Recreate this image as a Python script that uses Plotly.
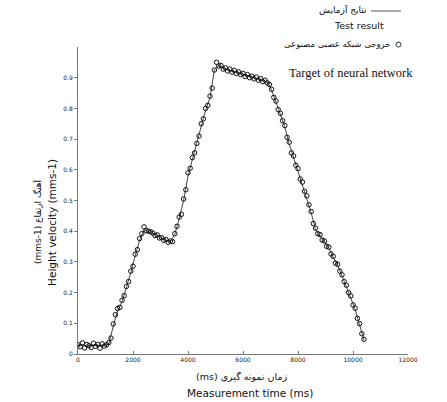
import plotly.graph_objects as go

# ---- data ----
# neural-network output (circles), sampled every 80 ms from 0 ms
nn_start_ms = 0
nn_step_ms = 80
nn_values = [
    0.030, 0.024, 0.036, 0.020, 0.031, 0.027, 0.021, 0.035, 0.025, 0.031,
    0.019, 0.033, 0.026, 0.030, 0.037, 0.052, 0.098, 0.128, 0.148, 0.152,
    0.175, 0.190, 0.220, 0.236, 0.270, 0.286, 0.325, 0.340, 0.376, 0.392,
    0.414, 0.402, 0.400, 0.398, 0.394, 0.386, 0.388, 0.378, 0.379, 0.370,
    0.373, 0.364, 0.368, 0.366, 0.392, 0.416, 0.446, 0.455, 0.505, 0.535,
    0.590, 0.605, 0.640, 0.655, 0.686, 0.710, 0.750, 0.766, 0.800, 0.810,
    0.840, 0.866, 0.925, 0.950, 0.938, 0.940, 0.928, 0.932, 0.922, 0.928,
    0.918, 0.924, 0.914, 0.919, 0.910, 0.914, 0.904, 0.910, 0.900, 0.905,
    0.896, 0.902, 0.892, 0.897, 0.887, 0.892, 0.883, 0.878, 0.862, 0.836,
    0.824, 0.796, 0.784, 0.760, 0.744, 0.706, 0.690, 0.655, 0.645, 0.615,
    0.604, 0.570, 0.560, 0.530, 0.515, 0.486, 0.464, 0.425, 0.410, 0.392,
    0.389, 0.371, 0.368, 0.351, 0.348, 0.326, 0.318, 0.296, 0.292, 0.270,
    0.258, 0.236, 0.224, 0.200, 0.189, 0.160, 0.149, 0.116, 0.099, 0.066,
    0.048,
]

# test result (line), sampled every 160 ms from 0 ms
test_start_ms = 0
test_step_ms = 160
test_values = [
    0.028, 0.030, 0.026, 0.030, 0.027, 0.029, 0.028, 0.032, 0.090, 0.140,
    0.170, 0.215, 0.265, 0.320, 0.370, 0.405, 0.400, 0.393, 0.386, 0.377,
    0.370, 0.367, 0.390, 0.440, 0.500, 0.580, 0.635, 0.685, 0.745, 0.795,
    0.835, 0.925, 0.940, 0.930, 0.926, 0.922, 0.918, 0.913, 0.908, 0.904,
    0.900, 0.895, 0.890, 0.886, 0.860, 0.820, 0.780, 0.740, 0.685, 0.640,
    0.600, 0.555, 0.510, 0.460, 0.405, 0.385, 0.365, 0.345, 0.315, 0.290,
    0.255, 0.220, 0.185, 0.145, 0.095, 0.045,
]

x_tick_values = [0, 2000, 4000, 6000, 8000, 10000, 12000]
x_tick_labels = ["0", "2000", "4000", "6000", "8000", "10000", "12000"]
y_tick_values = [0, 0.1, 0.2, 0.3, 0.4, 0.5, 0.6, 0.7, 0.8, 0.9]
y_tick_labels = ["0", "0.1", "0.2", "0.3", "0.4", "0.5", "0.6", "0.7", "0.8", "0.9"]

nn_times = [nn_start_ms + i * nn_step_ms for i in range(len(nn_values))]
test_times = [test_start_ms + i * test_step_ms for i in range(len(test_values))]

fig = go.Figure()
fig.add_trace(go.Scatter(
    x=test_times, y=test_values, mode="lines",
    line=dict(color="#444", width=1), showlegend=False,
))
fig.add_trace(go.Scatter(
    x=nn_times, y=nn_values, mode="markers",
    marker=dict(symbol="circle-open", size=4.5, color="#111", line=dict(width=1)),
    showlegend=False,
))

axis_color = "#777"
fig.update_xaxes(
    range=[0, 12000], tickvals=x_tick_values, ticktext=x_tick_labels,
    showgrid=False, zeroline=False, showline=True, linecolor=axis_color, linewidth=1,
    ticks="inside", ticklen=3, tickcolor=axis_color,
    tickfont=dict(family="DejaVu Sans", size=6, color="#222"),
)
fig.update_yaxes(
    range=[0, 1.0], tickvals=y_tick_values, ticktext=y_tick_labels,
    showgrid=False, zeroline=False, showline=True, linecolor=axis_color, linewidth=1,
    ticks="outside", ticklen=3, tickcolor=axis_color,
    tickfont=dict(family="DejaVu Sans", size=6, color="#222"),
)

sans = "DejaVu Sans"
ann = [
    # axis titles
    dict(x=0.494, y=-0.05, xref="paper", yref="paper", yanchor="top", showarrow=False,
         text="(ms) زمان نمونه گیری", font=dict(family=sans, size=9.5, color="#111")),
    dict(x=0.52, y=-0.10, xref="paper", yref="paper", yanchor="top", showarrow=False,
         text="Measurement time (ms)", font=dict(family=sans, size=10.5, color="#111")),
    dict(x=-0.079, y=0.43, xref="paper", yref="paper", xanchor="center", showarrow=False,
         textangle=-90, text="Height velocity (mms-1)", font=dict(family=sans, size=10.5, color="#111")),
    dict(x=-0.121, y=0.43, xref="paper", yref="paper", xanchor="center", showarrow=False,
         textangle=-90, text="(mms-1) آهنگ ارتفاع", font=dict(family=sans, size=9, color="#111")),
    # legend texts
    dict(x=343, y=10, xref="paper", yref="paper", showarrow=False, text="نتایج آزمایش",
         font=dict(family=sans, size=9, color="#111")),
    dict(x=359, y=26, xref="paper", yref="paper", showarrow=False, text="Test result",
         font=dict(family=sans, size=9.5, color="#111")),
    dict(x=337, y=44, xref="paper", yref="paper", showarrow=False, text="خروجی شبکه عصبی مصنوعی",
         font=dict(family=sans, size=8.5, color="#111")),
    dict(x=351, y=73, xref="paper", yref="paper", showarrow=False, text="Target of neural network",
         font=dict(family="Liberation Serif", size=12.5, color="#111")),
]

# convert pixel-placed legend annotations to paper coords
L, R, T, B, W, H = 78, 39, 47, 48, 447, 402
pw, ph = W - L - R, H - T - B
def px(x):
    return (x - L) / pw
def py(y):
    return (H - B - y) / ph
for a in ann[4:]:
    a["x"] = px(a["x"])
    a["y"] = py(a["y"])
    a["xanchor"] = "center"
    a["yanchor"] = "middle"

shapes = [
    dict(type="line", xref="paper", yref="paper", x0=px(371), x1=px(401), y0=py(11), y1=py(11),
         line=dict(color="#555", width=1)),
    dict(type="circle", xref="paper", yref="paper", x0=px(396), x1=px(401), y0=py(42), y1=py(47),
         line=dict(color="#333", width=1)),
]

fig.update_layout(
    width=W, height=H,
    margin=dict(l=L, r=R, t=T, b=B),
    paper_bgcolor="white", plot_bgcolor="white",
    annotations=ann, shapes=shapes, showlegend=False,
)

fig.write_html("out.html")
